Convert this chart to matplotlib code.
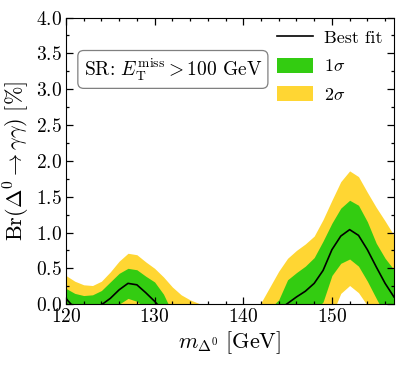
import numpy as np
import matplotlib
matplotlib.use("Agg")
import matplotlib.pyplot as plt
from matplotlib.patches import Patch
from matplotlib.lines import Line2D

plt.rcParams['mathtext.fontset'] = 'cm'
plt.rcParams['font.family'] = 'serif'
plt.rcParams['font.serif'] = ['cmr10', 'DejaVu Serif']
plt.rcParams['axes.formatter.use_mathtext'] = True

# mass points [GeV]
mass = np.arange(120, 158)

# best fit and 1/2 sigma bands, Br in %
best = [0.08, -0.06, -0.15, -0.12, -0.01, 0.08, 0.20, 0.29, 0.27, 0.16,
        0.04, -0.10, -0.25, -0.25, -0.25, -0.25, -0.25, -0.25, -0.25, -0.25,
        -0.25, -0.25, -0.25, -0.25, -0.08, 0.01, 0.10, 0.18, 0.29, 0.47,
        0.76, 0.95, 1.04, 0.96, 0.76, 0.52, 0.29, 0.10]
one_up = [0.22, 0.15, 0.12, 0.13, 0.19, 0.31, 0.43, 0.50, 0.48, 0.39,
          0.31, 0.14, -0.12, -0.15, -0.15, -0.15, -0.15, -0.15, -0.15, -0.15,
          -0.15, -0.15, -0.15, -0.06, 0.06, 0.34, 0.44, 0.53, 0.65, 0.88,
          1.13, 1.34, 1.45, 1.38, 1.15, 0.85, 0.64, 0.48]
one_lo = [-0.25, -0.30, -0.35, -0.35, -0.25, -0.10, 0.00, 0.08, 0.04, -0.06,
          -0.20, -0.40, -0.40, -0.40, -0.40, -0.40, -0.40, -0.40, -0.40, -0.40,
          -0.40, -0.40, -0.40, -0.40, -0.40, -0.40, -0.40, -0.30, -0.10, 0.03,
          0.40, 0.57, 0.63, 0.53, 0.32, 0.08, -0.15, -0.35]
two_up = [0.40, 0.32, 0.27, 0.26, 0.32, 0.45, 0.60, 0.71, 0.69, 0.59,
          0.50, 0.38, 0.24, 0.13, 0.06, 0.01, -0.05, -0.10, -0.10, -0.10,
          -0.10, -0.10, 0.02, 0.24, 0.46, 0.64, 0.75, 0.84, 0.95, 1.18,
          1.45, 1.71, 1.86, 1.78, 1.56, 1.35, 1.16, 0.96]
two_lo = [-0.45, -0.50, -0.55, -0.55, -0.45, -0.30, -0.15, -0.10, -0.15, -0.30,
          -0.45, -0.60, -0.60, -0.60, -0.60, -0.60, -0.60, -0.60, -0.60, -0.60,
          -0.60, -0.60, -0.60, -0.60, -0.60, -0.60, -0.60, -0.60, -0.50, -0.35,
          -0.15, 0.15, 0.26, 0.16, -0.02, -0.30, -0.50, -0.70]

green = '#33cc11'
yellow = '#ffd633'

fig = plt.figure(figsize=(4.07, 3.66), dpi=100)
ax = fig.add_axes([0.162, 0.169, 0.806, 0.783])

ax.fill_between(mass, two_lo, two_up, color=yellow, lw=0)
ax.fill_between(mass, one_lo, one_up, color=green, lw=0)
ax.plot(mass, best, color='k', lw=1.2)

ax.set_xlim(120, 157)
ax.set_ylim(0, 4)
ax.set_xticks([120, 130, 140, 150])
ax.set_xticks(np.arange(120, 158, 2), minor=True)
ax.set_yticks(np.arange(0, 4.01, 0.5))
ax.set_yticks(np.arange(0, 4.01, 0.25), minor=True)
ax.yaxis.set_major_formatter(matplotlib.ticker.FormatStrFormatter('$%.1f$'))
ax.xaxis.set_major_formatter(matplotlib.ticker.FormatStrFormatter('$%d$'))
ax.tick_params(which='both', direction='in', top=True, right=True, labelsize=14)
ax.tick_params(which='major', length=5, width=0.9, pad=3)
ax.tick_params(which='minor', length=2.5, width=0.9)

ax.set_xlabel(r'$m_{\Delta^0}\ [\mathrm{GeV}]$', fontsize=16, labelpad=2)
ax.set_ylabel(r'$\mathrm{Br}(\Delta^0 \to \gamma\gamma)\ [\%]$', fontsize=16, labelpad=3)

ax.text(0.326, 0.819, r'SR: $E_{\mathrm{T}}^{\mathrm{miss}} > 100$ GeV',
        transform=ax.transAxes, ha='center', va='center', fontsize=14,
        bbox=dict(boxstyle='round,pad=0.3', fc='white', ec='gray', lw=0.9))

handles = [Line2D([], [], color='k', lw=1.2),
           Patch(color=green, lw=0),
           Patch(color=yellow, lw=0)]
labels = ['Best fit', r'$1\sigma$', r'$2\sigma$']
ax.legend(handles, labels, loc='upper right', frameon=False, fontsize=13,
          handlelength=2.0, handleheight=0.9, borderaxespad=0.25,
          labelspacing=0.65, handletextpad=0.6)

fig.savefig('out.png', dpi=100)
